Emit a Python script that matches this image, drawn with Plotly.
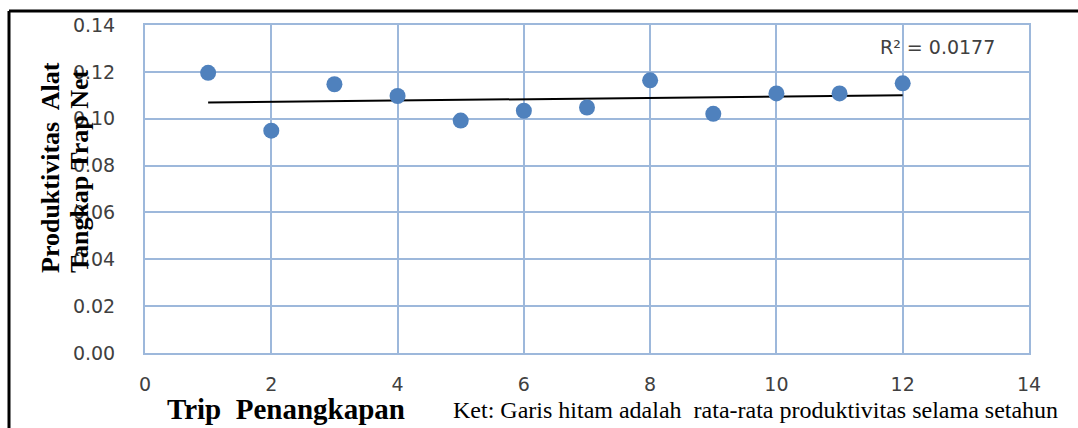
import numpy as np
import plotly.graph_objects as go

trips = [1, 2, 3, 4, 5, 6, 7, 8, 9, 10, 11, 12]
productivity = [0.1196, 0.0949, 0.1147, 0.1097, 0.0992, 0.1034, 0.1048, 0.1164, 0.1021, 0.1108, 0.1108, 0.1151]
x_ticks = [0, 2, 4, 6, 8, 10, 12, 14]
y_ticks = [0.00, 0.02, 0.04, 0.06, 0.08, 0.10, 0.12, 0.14]
r2_label = "R² = 0.0177"

# linear trend line fitted to the data
slope, intercept = np.polyfit(trips, productivity, 1)
trend_x = [trips[0], trips[-1]]
trend_y = [slope * v + intercept for v in trend_x]

W, H = 1078, 428
L, R, T, B = 145, 49, 25, 75
pw, ph = W - L - R, H - T - B

def px(xp):
    return (xp - L) / pw

def py(yp):
    return (H - B - yp) / ph

grid = "#9DB8DB"
tickfont = dict(family="DejaVu Sans", size=19, color="#404040")

fig = go.Figure()
fig.add_trace(go.Scatter(x=trend_x, y=trend_y, mode="lines",
                         line=dict(color="black", width=2), showlegend=False,
                         hoverinfo="skip"))
fig.add_trace(go.Scatter(x=trips, y=productivity, mode="markers",
                         marker=dict(color="#4F81BD", size=16), showlegend=False))

fig.update_layout(
    width=W, height=H,
    margin=dict(l=L, r=R, t=T, b=B),
    paper_bgcolor="white", plot_bgcolor="white",
    xaxis=dict(range=[0, 14], tickvals=x_ticks, ticktext=[str(v) for v in x_ticks],
               showgrid=True, gridcolor=grid, gridwidth=2, zeroline=False,
               showline=True, linecolor=grid, linewidth=2, mirror=True,
               tickfont=tickfont, ticks="", ticklabelstandoff=13),
    yaxis=dict(range=[0, 0.14], tickvals=y_ticks, ticktext=[f"{v:.2f}" for v in y_ticks],
               showgrid=True, gridcolor=grid, gridwidth=2, zeroline=False,
               showline=True, linecolor=grid, linewidth=2, mirror=True,
               tickfont=tickfont, ticks="", ticklabelstandoff=24),
    shapes=[
        dict(type="line", xref="paper", yref="paper", x0=px(9), x1=px(1078), y0=py(11), y1=py(11),
             line=dict(color="black", width=3)),
        dict(type="line", xref="paper", yref="paper", x0=px(9), x1=px(9), y0=py(11), y1=py(428),
             line=dict(color="black", width=3)),
    ],
    annotations=[
        dict(text="Produktivitas\u00a0 Alat", x=px(50), y=py(168), xref="paper", yref="paper",
             textangle=-90, showarrow=False, xanchor="center", yanchor="middle",
             font=dict(family="Liberation Serif", size=26, color="black", weight="bold")),
        dict(text="Tangkap Trap Net", x=px(80), y=py(171), xref="paper", yref="paper",
             textangle=-90, showarrow=False, xanchor="center", yanchor="middle",
             font=dict(family="Liberation Serif", size=26, color="black", weight="bold")),
        dict(text="Trip\u00a0 Penangkapan", x=px(286), y=py(409), xref="paper", yref="paper",
             showarrow=False, xanchor="center", yanchor="middle",
             font=dict(family="Liberation Serif", size=29, color="black", weight="bold")),
        dict(text="Ket: Garis hitam adalah\u00a0 rata-rata produktivitas selama setahun",
             x=px(755), y=py(410), xref="paper", yref="paper",
             showarrow=False, xanchor="center", yanchor="middle",
             font=dict(family="Liberation Serif", size=24, color="black")),
        dict(text=r2_label, x=px(937), y=py(47), xref="paper", yref="paper",
             showarrow=False, xanchor="center", yanchor="middle",
             font=dict(family="DejaVu Sans", size=19, color="#404040")),
    ],
)

fig.write_html("out.html", config={"displayModeBar": False},
               post_script="document.body.style.margin='0';document.body.style.overflow='hidden';")
